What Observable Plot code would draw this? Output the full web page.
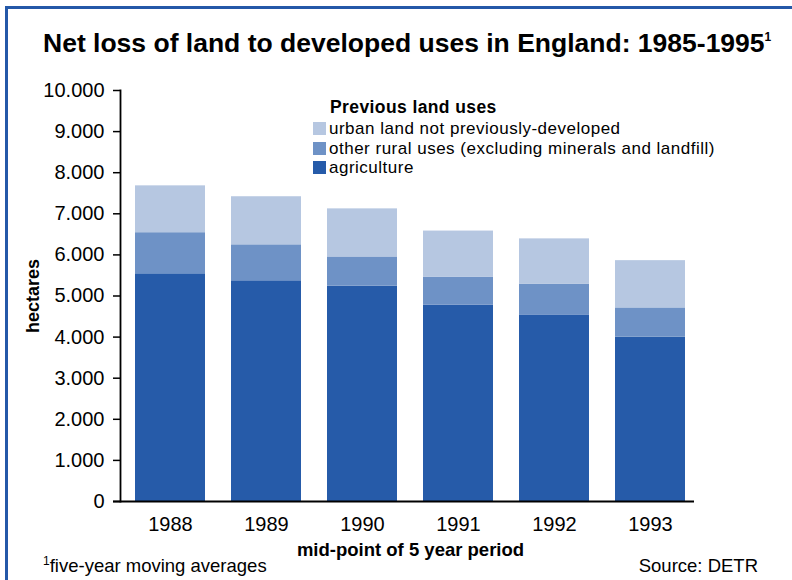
<!DOCTYPE html>
<html>
<head>
<meta charset="utf-8">
<script src="https://cdn.jsdelivr.net/npm/d3@7"></script>
<script src="https://cdn.jsdelivr.net/npm/@observablehq/plot@0.6"></script>
<style>
  body { margin: 0; background: #fff; font-family: "Liberation Sans", Arial, sans-serif; }
  #wrap { position: relative; width: 792px; height: 580px; overflow: hidden; background: #fff; }
  #wrap svg { position: absolute; left: 0; top: 0; }
  .abs { position: absolute; white-space: nowrap; color: #000; }
  .border-top { position: absolute; left: 5px; top: 6px; width: 800px; height: 3px; background: #2458a8; }
  .border-left { position: absolute; left: 5px; top: 6px; width: 3px; height: 600px; background: #2458a8; }
  .sw { display: inline-block; width: 13px; height: 13px; margin-right: 3px; vertical-align: -1px; }
</style>
</head>
<body>
<div id="wrap"></div>
<script>
const years = ["1988", "1989", "1990", "1991", "1992", "1993"];
const seriesNames = [
  "agriculture",
  "other rural uses (excluding minerals and landfill)",
  "urban land not previously-developed"
];
const agriculture = [5540, 5370, 5240, 4780, 4540, 4000];
const otherRural = [1000, 875, 710, 680, 750, 710];
const urbanLand = [1140, 1170, 1170, 1120, 1100, 1150];
const seriesColors = ["#265ba9", "#6e92c6", "#b6c7e1"];
const yTicks = [0, 1000, 2000, 3000, 4000, 5000, 6000, 7000, 8000, 9000, 10000];

const seriesValues = [agriculture, otherRural, urbanLand];
const data = [];
seriesNames.forEach((name, s) => {
  years.forEach((yr, i) => data.push({ year: yr, use: name, value: seriesValues[s][i] }));
});

const fmt = d => d === 0 ? "0" : d3.format(",")(d).replace(/,/g, ".");
const font = "'Liberation Sans', Arial, sans-serif";

const chart = Plot.plot({
  width: 792,
  height: 580,
  marginLeft: 120,
  marginRight: 92,
  marginTop: 90,
  marginBottom: 79,
  style: { fontFamily: font, fontSize: "20px", color: "#000", background: "transparent" },
  x: { domain: years, paddingInner: 0.275, paddingOuter: 0.1375, label: null },
  y: { domain: [0, 10000], label: null },
  color: { domain: seriesNames, range: seriesColors },
  marks: [
    Plot.barY(data, { x: "year", y: "value", fill: "use", z: "use", order: seriesNames }),
    Plot.axisY({ ticks: yTicks, tickFormat: fmt, tickSize: 7, tickPadding: 9, strokeWidth: 1.5, fontSize: 20, label: null }),
    Plot.axisX({ tickSize: 0, tickPadding: 15, fontSize: 20, label: null }),
    Plot.frame({ anchor: "left", stroke: "#000", strokeWidth: 1.8 }),
    Plot.ruleY([0], { stroke: "#000", strokeWidth: 2, insetLeft: -7, insetRight: 6 }),
    Plot.text(["hectares"], { frameAnchor: "left", dx: -87, rotate: -90, fontWeight: "bold", fontSize: 18, textAnchor: "middle" }),
    Plot.text(["mid-point of 5 year period"], { frameAnchor: "bottom", dy: 54, fontWeight: "bold", fontSize: 18.5, textAnchor: "middle" })
  ]
});

const wrap = document.getElementById("wrap");
wrap.appendChild(chart);

function add(html, css) {
  const d = document.createElement("div");
  d.className = "abs";
  d.innerHTML = html;
  Object.assign(d.style, css);
  wrap.appendChild(d);
  return d;
}
const bt = document.createElement("div"); bt.className = "border-top"; wrap.appendChild(bt);
const bl = document.createElement("div"); bl.className = "border-left"; wrap.appendChild(bl);

add('Net loss of land to developed uses in England: 1985-1995<sup style="font-size:12px;vertical-align:11px;line-height:0">1</sup>',
  { left: "43px", top: "28px", fontSize: "26.5px", fontWeight: "bold", lineHeight: "30px" });

add('Previous land uses', { left: "330px", top: "98px", fontSize: "17.5px", fontWeight: "bold", letterSpacing: "0.4px", lineHeight: "19px" });
const legendRows = [2, 1, 0];
legendRows.forEach((s, k) => {
  add(`<span class="sw" style="background:${seriesColors[s]}"></span>${seriesNames[s]}`,
    { left: "313px", top: (119 + k * 19.5) + "px", fontSize: "17px", letterSpacing: "0.5px", lineHeight: "19px" });
});

add('<sup style="font-size:12px;vertical-align:7px;line-height:0">1</sup>five-year moving averages',
  { left: "43px", top: "556px", fontSize: "18.5px", lineHeight: "20px" });
add('Source: DETR', { right: "34px", top: "556px", fontSize: "18.5px", lineHeight: "20px" });
</script>
</body>
</html>
